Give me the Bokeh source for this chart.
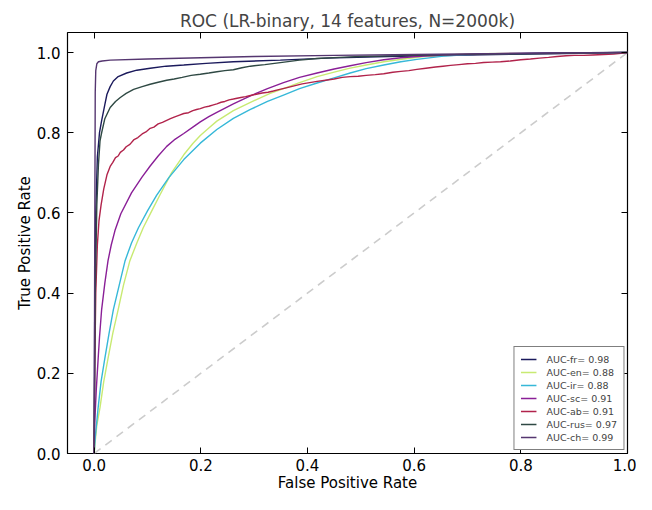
from bokeh.plotting import figure
from bokeh.models import LinearAxis, FixedTicker, PrintfTickFormatter, Range1d
from bokeh.embed import file_html
from bokeh.resources import INLINE

# ---- data ----
fr_x = [0, 0.001, 0.003, 0.006, 0.01, 0.014, 0.02, 0.024, 0.03, 0.036, 0.045, 0.061, 0.08, 0.105, 0.135,
        0.168, 0.21, 0.261, 0.349, 0.436, 0.55, 0.7, 0.85, 1.0]
fr_y = [0, 0.35, 0.6, 0.74, 0.8, 0.83, 0.87, 0.896, 0.915, 0.929, 0.94, 0.949, 0.956, 0.961, 0.966,
        0.969, 0.973, 0.977, 0.981, 0.986, 0.99, 0.994, 0.997, 1.0]

en_x = [0, 0.002, 0.005, 0.011, 0.018, 0.026, 0.035, 0.045, 0.055, 0.067, 0.08, 0.092, 0.108, 0.123, 0.145,
        0.168, 0.185, 0.199, 0.215, 0.23, 0.261, 0.293, 0.33, 0.355, 0.385, 0.418, 0.45, 0.48, 0.51, 0.543,
        0.58, 0.618, 0.66, 0.72, 0.85, 1.0]
en_y = [0, 0.03, 0.07, 0.115, 0.18, 0.237, 0.3, 0.359, 0.42, 0.481, 0.525, 0.563, 0.605, 0.644, 0.70,
        0.745, 0.773, 0.793, 0.812, 0.829, 0.855, 0.876, 0.898, 0.91, 0.925, 0.94, 0.951, 0.961, 0.969, 0.977,
        0.984, 0.99, 0.994, 0.997, 0.999, 1.0]

ir_x = [0, 0.002, 0.0075, 0.013, 0.02, 0.028, 0.036, 0.047, 0.058, 0.07, 0.083, 0.1, 0.117, 0.14, 0.168,
        0.199, 0.23, 0.261, 0.293, 0.325, 0.355, 0.385, 0.418, 0.45, 0.48, 0.51, 0.543, 0.575, 0.605, 0.655,
        0.72, 0.85, 1.0]
ir_y = [0, 0.04, 0.115, 0.18, 0.237, 0.3, 0.359, 0.42, 0.481, 0.525, 0.563, 0.605, 0.644, 0.688, 0.733,
        0.774, 0.808, 0.836, 0.858, 0.878, 0.894, 0.91, 0.924, 0.937, 0.949, 0.96, 0.969, 0.977, 0.983, 0.991,
        0.996, 0.999, 1.0]

sc_x = [0, 0.001, 0.004, 0.0075, 0.01, 0.014, 0.02, 0.026, 0.032, 0.039, 0.05, 0.07, 0.09, 0.105, 0.12,
        0.136, 0.15, 0.168, 0.185, 0.199, 0.215, 0.23, 0.261, 0.293, 0.325, 0.355, 0.385, 0.418, 0.45, 0.48,
        0.51, 0.543, 0.575, 0.605, 0.655, 0.75, 0.85, 1.0]
sc_y = [0, 0.075, 0.16, 0.237, 0.29, 0.359, 0.425, 0.481, 0.52, 0.556, 0.598, 0.65, 0.69, 0.717, 0.742,
        0.766, 0.782, 0.798, 0.814, 0.827, 0.84, 0.851, 0.872, 0.892, 0.91, 0.925, 0.938, 0.949, 0.959, 0.967,
        0.975, 0.982, 0.987, 0.99, 0.994, 0.997, 0.999, 1.0]

ab_x = [0, 0.001, 0.003, 0.006, 0.009, 0.013, 0.018, 0.024, 0.03, 0.035, 0.04, 0.045, 0.049, 0.055, 0.06,
        0.067, 0.074, 0.082, 0.09, 0.097, 0.105, 0.112, 0.12, 0.128, 0.136, 0.143, 0.15, 0.16, 0.168, 0.177,
        0.185, 0.192, 0.199, 0.207, 0.215, 0.222, 0.23, 0.238, 0.245, 0.253, 0.261, 0.268, 0.275, 0.284,
        0.293, 0.304, 0.315, 0.326, 0.336, 0.348, 0.36, 0.375, 0.39, 0.404, 0.418, 0.434, 0.45, 0.465, 0.48,
        0.495, 0.51, 0.527, 0.543, 0.56, 0.575, 0.59, 0.605, 0.622, 0.64, 0.654, 0.668, 0.684, 0.7, 0.715,
        0.73, 0.746, 0.762, 0.78, 0.8, 0.818, 0.835, 0.852, 0.868, 0.885, 0.9, 0.918, 0.935, 0.955, 0.974,
        0.988, 1.0]
ab_y = [0, 0.2, 0.4, 0.52, 0.58, 0.62, 0.66, 0.695, 0.716, 0.726, 0.738, 0.742, 0.751, 0.757, 0.765,
        0.771, 0.782, 0.788, 0.797, 0.802, 0.811, 0.814, 0.822, 0.826, 0.831, 0.835, 0.839, 0.844, 0.848, 0.85,
        0.855, 0.858, 0.86, 0.864, 0.866, 0.869, 0.872, 0.876, 0.878, 0.882, 0.884, 0.886, 0.888, 0.89,
        0.893, 0.896, 0.899, 0.901, 0.904, 0.908, 0.912, 0.917, 0.922, 0.925, 0.928, 0.931, 0.934, 0.938, 0.94,
        0.941, 0.943, 0.945, 0.947, 0.951, 0.953, 0.955, 0.958, 0.961, 0.964, 0.966, 0.968, 0.97, 0.972, 0.973,
        0.975, 0.976, 0.977, 0.979, 0.982, 0.984, 0.986, 0.988, 0.99, 0.992, 0.993, 0.993, 0.994, 0.995, 0.996,
        0.998, 1.0]

rus_x = [0, 0.002, 0.005, 0.008, 0.011, 0.014, 0.02, 0.03, 0.04, 0.049, 0.06, 0.074, 0.09, 0.105, 0.12,
         0.136, 0.15, 0.165, 0.182, 0.199, 0.215, 0.23, 0.245, 0.261, 0.277, 0.293, 0.32, 0.349, 0.385, 0.418,
         0.46, 0.5, 0.6, 0.8, 1.0]
rus_y = [0, 0.4, 0.62, 0.72, 0.78, 0.8, 0.835, 0.863, 0.878, 0.888, 0.898, 0.908, 0.915, 0.921, 0.926,
         0.931, 0.934, 0.938, 0.943, 0.946, 0.949, 0.952, 0.955, 0.957, 0.962, 0.966, 0.97, 0.975, 0.981, 0.985,
         0.988, 0.99, 0.993, 0.997, 1.0]

ch_x = [0, 0.001, 0.002, 0.003, 0.005, 0.008, 0.015, 0.03, 0.1, 0.2, 0.3, 0.45, 0.6, 0.8, 1.0]
ch_y = [0, 0.5, 0.9, 0.955, 0.972, 0.977, 0.979, 0.981, 0.984, 0.987, 0.99, 0.993, 0.995, 0.998, 1.0]

diag = [0, 1]

series_names = ["AUC-fr= 0.98", "AUC-en= 0.88", "AUC-ir= 0.88", "AUC-sc= 0.91",
                "AUC-ab= 0.91", "AUC-rus= 0.97", "AUC-ch= 0.99"]
series_colors = ["#1b1a5c", "#c8ea72", "#36b8d8", "#8a1f97", "#b1234b", "#2f4944", "#553670"]
series_data = [(fr_x, fr_y), (en_x, en_y), (ir_x, ir_y), (sc_x, sc_y),
               (ab_x, ab_y), (rus_x, rus_y), (ch_x, ch_y)]

ticks = [0.0, 0.2, 0.4, 0.6, 0.8, 1.0]

FONT = "DejaVu Sans"

p = figure(width=636, height=494, output_backend="svg", toolbar_location=None,
           x_range=Range1d(-0.05, 1.0), y_range=Range1d(0.0, 1.05),
           min_border_left=67, min_border_right=9, min_border_top=32, min_border_bottom=0,
           x_axis_label="False Positive Rate", y_axis_label="True Positive Rate")

p.title.text = "ROC (LR-binary, 14 features, N=2000k)"
p.title.align = "center"
p.title.text_font = FONT
p.title.text_font_size = "17px"
p.title.text_font_style = "normal"
p.title.standoff = 4
p.title.offset = 0

p.grid.visible = False
p.outline_line_color = "black"
p.outline_line_width = 1.2
p.outline_line_alpha = 1.0
p.background_fill_color = "white"
p.border_fill_color = "white"

p.line(diag, diag, line_color="#cccccc", line_width=1.6, line_dash="8 6")

for (xs, ys), name, col in zip(series_data, series_names, series_colors):
    p.line(xs, ys, line_color=col, line_width=1.4, legend_label=name)

for ax in [p.xaxis[0], p.yaxis[0]]:
    ax.ticker = FixedTicker(ticks=ticks)
    ax.formatter = PrintfTickFormatter(format="%.1f")
    ax.major_label_text_font = FONT
    ax.major_label_text_font_size = "15px"
    ax.major_label_text_color = "black"
    ax.axis_label_text_font = FONT
    ax.axis_label_text_font_size = "15px"
    ax.axis_label_text_font_style = "normal"
    ax.axis_label_text_color = "black"
    ax.axis_line_color = None
    ax.major_tick_in = 6
    ax.major_tick_out = 0
    ax.major_tick_line_color = "black"
    ax.minor_tick_line_color = None

p.xaxis[0].major_label_standoff = 5
p.xaxis[0].axis_label_standoff = 0
p.yaxis[0].major_label_standoff = 7
p.yaxis[0].axis_label_standoff = 0

for loc in ["above", "right"]:
    ax = LinearAxis(ticker=FixedTicker(ticks=ticks), axis_line_color=None,
                    major_tick_in=6, major_tick_out=0, minor_tick_line_color=None,
                    major_label_text_font_size="1px", major_label_text_color=None,
                    major_label_standoff=0)
    p.add_layout(ax, loc)

lg = p.legend[0]
lg.location = "bottom_right"
lg.border_line_color = "black"
lg.border_line_width = 1
lg.background_fill_color = "white"
lg.background_fill_alpha = 1.0
lg.label_text_font = FONT
lg.label_text_font_size = "9.5px"
lg.label_height = 12
lg.glyph_height = 12
lg.glyph_width = 16
lg.spacing = 1
lg.padding = 6
lg.margin = 3
lg.label_standoff = 10

open("out.html", "w").write(file_html(p, INLINE))
